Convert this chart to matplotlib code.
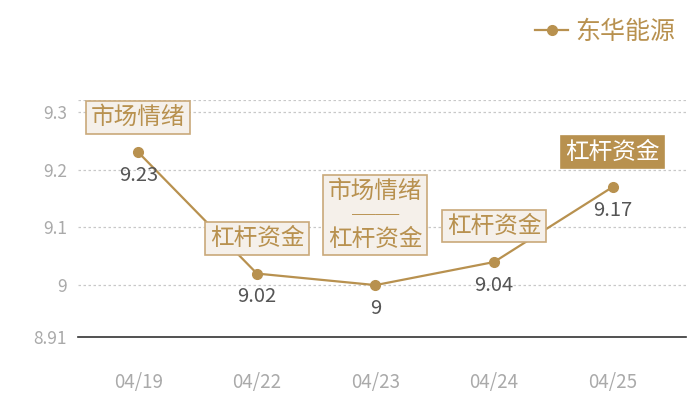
import matplotlib
matplotlib.use("Agg")
import matplotlib.pyplot as plt

plt.rcParams["font.family"] = ["Noto Sans CJK SC", "DejaVu Sans"]

# data
dates = ["04/19", "04/22", "04/23", "04/24", "04/25"]
prices = [9.23, 9.02, 9.00, 9.04, 9.17]
price_labels = ["9.23", "9.02", "9", "9.04", "9.17"]
tags = ["市场情绪", "杠杆资金", "市场情绪\n──\n杠杆资金", "杠杆资金", "杠杆资金"]
tag_offsets = [35, 35, 70, 36, 35]  # pixels above the point
y_ticks = [8.91, 9.0, 9.1, 9.2, 9.3]
y_tick_labels = ["8.91", "9", "9.1", "9.2", "9.3"]

gold = "#b8914f"
box_fill = "#f5f0ea"
box_edge = "#c9a97a"

fig = plt.figure(figsize=(7, 4), dpi=100)
ax = fig.add_axes([0.1114, 0.1575, 0.8686, 0.5925])

x = list(range(len(dates)))
ax.plot(x, prices, color=gold, lw=1.6, marker="o", ms=7, zorder=3, label="东华能源")

for i, (p, lab, tag, off) in enumerate(zip(prices, price_labels, tags, tag_offsets)):
    ax.annotate(lab, (i, p), xytext=(0, -23), textcoords="offset pixels",
                ha="center", va="center", fontsize=14.5, color="#555555", zorder=4)
    last = i == len(prices) - 1
    ax.annotate(tag, (i, p), xytext=(0, off), textcoords="offset pixels",
                ha="center", va="center", fontsize=17,
                color="white" if last else gold, linespacing=1.05, zorder=5,
                bbox=dict(boxstyle="square,pad=0.2",
                          fc=gold if last else box_fill,
                          ec=gold if last else box_edge, lw=1.2))

ax.set_xlim(-0.51, 4.62)
ax.set_ylim(8.91, 9.321)
ax.set_xticks(x)
ax.set_xticklabels(dates)
ax.set_yticks(y_ticks)
ax.set_yticklabels(y_tick_labels)
ax.tick_params(axis="x", length=0, pad=25, labelsize=13.5, labelcolor="#aaaaaa")
ax.tick_params(axis="y", length=0, pad=8, labelsize=12.5, labelcolor="#aaaaaa")

for y in y_ticks[1:] + [9.321]:
    ax.axhline(y, color="#c8c8c8", lw=0.9, ls=(0, (2, 2)), zorder=1)

for s in ["left", "right", "top"]:
    ax.spines[s].set_visible(False)
ax.spines["bottom"].set_color("#333333")
ax.spines["bottom"].set_linewidth(1.2)

fig.legend(loc="upper right", bbox_to_anchor=(0.997, 1.01), frameon=False,
           fontsize=18, labelcolor=gold, handlelength=1.3, handletextpad=0.3)

fig.savefig("out.png", dpi=100)
